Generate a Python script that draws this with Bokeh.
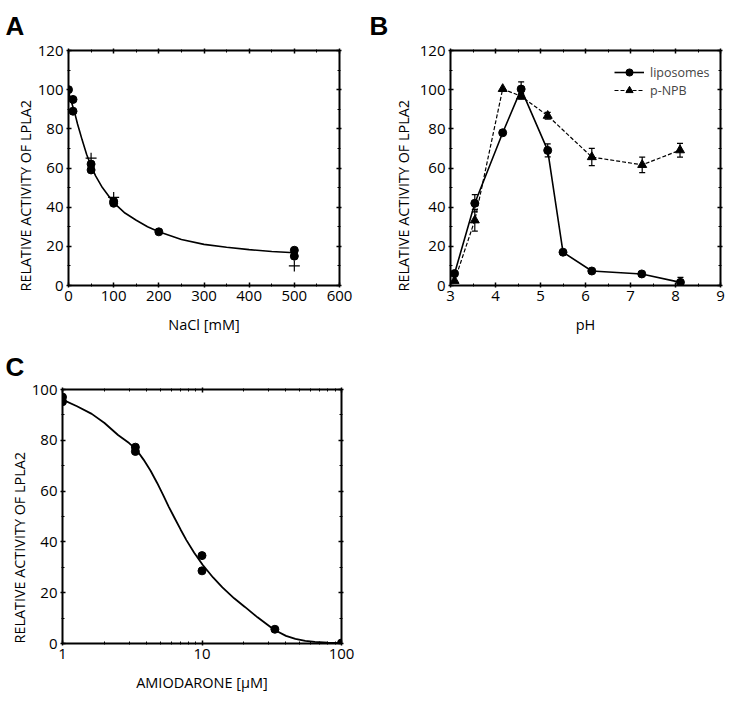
from bokeh.plotting import figure
from bokeh.models import (LinearAxis, LogAxis, FixedTicker, Whisker, ColumnDataSource,
                          Legend, LegendItem, Range1d, TeeHead, SingleIntervalTicker, Title)
from bokeh.layouts import column, row
from bokeh.embed import file_html
from bokeh.resources import INLINE

FONT = "Open Sans"
TICK_FS = "15px"
YLABEL_FS = "14.4px"
XLABEL_FS = "14.5px"
YLABEL = "RELATIVE ACTIVITY OF LPLA2"

# ---------------- Panel A data ----------------
nacl_x = [0, 10, 10, 50, 50, 100, 100, 200, 500, 500]
nacl_y = [100, 95, 89, 62, 59, 43, 42, 27.4, 18, 15]
nacl_plus_x = [50, 100, 500]
nacl_plus_y = [65, 45, 10]
nacl_fit_x = [0, 5, 10, 15, 20, 25, 30, 40, 50, 60, 75, 100, 125, 150, 175, 200, 250, 300, 350, 400, 450, 500]
nacl_fit_y = [99, 95, 91, 87, 82.5, 78.5, 74.5, 67, 61, 56, 50, 42.3, 37, 33.3, 30, 27.4, 23.5, 21, 19.5, 18.3, 17.4, 16.7]

# ---------------- Panel B data ----------------
ph_lipo = [3.09, 3.54, 4.16, 4.57, 5.16, 5.50, 6.14, 7.25, 8.11]
lipo = [6.1, 42, 78, 100.3, 69, 17, 7.4, 5.9, 1.6]
lipo_err = [0, 4.4, 0, 3.7, 3.3, 0, 0, 0, 2.5]
ph_npb = [3.09, 3.54, 4.16, 4.57, 5.16, 6.14, 7.26, 8.10]
npb = [2.4, 33.3, 100.4, 96.6, 86.7, 65.6, 61.6, 69.1]
npb_err = [0, 5.5, 0, 1.5, 1.7, 4.4, 4.0, 3.5]

# ---------------- Panel C data ----------------
amio_x = [1, 1, 3.33, 3.33, 10, 10, 33.3, 100]
amio_y = [97, 95.2, 77.3, 75.6, 34.6, 28.6, 5.6, 0.2]
amio_fit_x = [1.0, 1.27, 1.62, 2.0, 2.5, 3.0, 3.38, 3.81, 4.28, 4.77, 5.25, 5.78, 6.4, 7.02, 7.73, 8.79, 10.1,
              12.0, 14.0, 17.0, 20.3, 25.0, 32.9, 40.0, 46.7, 55.0, 64.4, 80.0, 100]
amio_fit_y = [96, 93.4, 90.4, 86.8, 82.1, 78.9, 76.4, 72.4, 68.0, 63.2, 58.6, 53.8, 49.1, 44.9, 40.7, 35.7, 31.0,
              26.0, 22.1, 17.8, 14.4, 10.3, 5.4, 3.0, 1.8, 1.0, 0.6, 0.3, 0.15]


def style_axes(p, xticker, yticker, log=False, ylabel_standoff=8, ylabel_offset=1):
    bottom = p.below[0]
    left = p.left[0]
    p.outline_line_color = None
    p.grid.visible = False
    p.background_fill_color = "white"
    p.border_fill_color = "white"
    top = LogAxis(ticker=xticker) if log else LinearAxis(ticker=xticker)
    right = LinearAxis(ticker=yticker)
    p.add_layout(top, "above")
    p.add_layout(right, "right")
    for ax in [bottom, left, top, right]:
        ax.axis_line_width = 2
        ax.axis_line_color = "black"
        ax.major_tick_line_color = "black"
        ax.minor_tick_line_color = "black"
        ax.major_tick_line_width = 1.5
        ax.minor_tick_line_width = 1
        ax.major_tick_in = 3
        ax.major_tick_out = 2
        ax.minor_tick_in = 2
        ax.minor_tick_out = 1
        ax.major_label_text_font = FONT
        ax.major_label_text_font_size = TICK_FS
        ax.major_label_text_color = "black"
        ax.axis_label_text_font = FONT
        ax.axis_label_text_font_style = "normal"
        ax.axis_label_text_color = "black"
        ax.major_label_standoff = 3
    for ax in [top, right]:
        ax.major_label_text_font_size = "0px"
        ax.major_label_standoff = 0
        ax.major_label_text_color = None
    bottom.ticker = xticker
    left.ticker = yticker
    bottom.axis_label_standoff = 11
    bottom.axis_label_text_font_size = XLABEL_FS
    # y label: drawn as a side title so that it can start at the bottom of the frame
    p.add_layout(Title(text=YLABEL, align="left", offset=ylabel_offset, standoff=ylabel_standoff,
                       text_font=FONT, text_font_size=YLABEL_FS, text_font_style="normal",
                       text_color="black"), "left")
    return bottom, left


def panel_letter(p, txt, offset, standoff=16):
    p.title.text = txt
    p.title.text_font = "Liberation Sans"
    p.title.text_font_style = "bold"
    p.title.text_font_size = "26px"
    p.title.align = "left"
    p.title.offset = offset
    p.title.standoff = standoff
    p.title.text_color = "black"


# ---------------- Panel A ----------------
pA = figure(width=362, height=344, output_backend="svg", toolbar_location=None,
            x_range=Range1d(0, 600), y_range=Range1d(0, 120),
            min_border_left=68, min_border_right=23, min_border_top=40, min_border_bottom=59)
bA, lA = style_axes(pA, SingleIntervalTicker(interval=100, num_minor_ticks=2),
                    SingleIntervalTicker(interval=20, num_minor_ticks=2),
                    ylabel_standoff=0, ylabel_offset=-6)
bA.axis_label = "NaCl [mM]"
pA.line(nacl_fit_x, nacl_fit_y, line_color="black", line_width=1.6)
pA.scatter(nacl_x, nacl_y, marker="circle", size=8, color="black")
pA.scatter(nacl_plus_x, nacl_plus_y, marker="cross", size=11, line_color="black", line_width=1.2)
panel_letter(pA, "A", -63)

# ---------------- Panel B ----------------
pB = figure(width=364, height=344, output_backend="svg", toolbar_location=None,
            x_range=Range1d(3, 9), y_range=Range1d(0, 120),
            min_border_left=88, min_border_right=6, min_border_top=41, min_border_bottom=59)
bB, lB = style_axes(pB, SingleIntervalTicker(interval=1, num_minor_ticks=2),
                    SingleIntervalTicker(interval=20, num_minor_ticks=2),
                    ylabel_standoff=7, ylabel_offset=-6)
bB.axis_label = "pH"

l1 = pB.line(ph_lipo, lipo, line_color="black", line_width=1.6)
s1 = pB.scatter(ph_lipo, lipo, marker="circle", size=8, color="black")
l2 = pB.line(ph_npb, npb, line_color="black", line_width=1.2, line_dash="4 2")
s2 = pB.scatter(ph_npb, npb, marker="triangle", size=9, color="black")

for xs, ys, es in [(ph_lipo, lipo, lipo_err), (ph_npb, npb, npb_err)]:
    bx = [x for x, e in zip(xs, es) if e > 0]
    up = [y + e for y, e in zip(ys, es) if e > 0]
    lo = [y - e for y, e in zip(ys, es) if e > 0]
    src = ColumnDataSource(dict(base=bx, upper=up, lower=lo))
    pB.add_layout(Whisker(source=src, base="base", upper="upper", lower="lower",
                          line_color="black", line_width=1.2,
                          upper_head=TeeHead(size=6, line_width=1.2, line_color="black"),
                          lower_head=TeeHead(size=6, line_width=1.2, line_color="black")))

legend = Legend(items=[LegendItem(label="liposomes", renderers=[l1, s1]),
                       LegendItem(label="p-NPB", renderers=[l2, s2])],
                location=(164, 186), border_line_color=None, background_fill_alpha=0,
                glyph_width=30, glyph_height=18, label_height=18, spacing=0, padding=0,
                margin=0, label_standoff=6, label_text_font=FONT, label_text_font_size="12.5px")
pB.add_layout(legend)
panel_letter(pB, "B", -81)

# ---------------- Panel C ----------------
pC = figure(width=361, height=355, output_backend="svg", toolbar_location=None,
            x_axis_type="log", x_range=Range1d(1, 100), y_range=Range1d(0, 100),
            min_border_left=62, min_border_right=20, min_border_top=44, min_border_bottom=56)
log_ticker = FixedTicker(ticks=[1, 10, 100],
                         minor_ticks=[2, 3, 4, 5, 6, 7, 8, 9, 20, 30, 40, 50, 60, 70, 80, 90])
bC, lC = style_axes(pC, log_ticker, SingleIntervalTicker(interval=20, num_minor_ticks=2), log=True,
                    ylabel_standoff=0, ylabel_offset=0)
bC.major_label_overrides = {1: "1", 10: "10", 100: "100"}
bC.axis_label = "AMIODARONE [µM]"
pC.line(amio_fit_x, amio_fit_y, line_color="black", line_width=1.8)
pC.scatter(amio_x, amio_y, marker="circle", size=8, color="black")
panel_letter(pC, "C", -57, standoff=11)

layout = column(row(pA, pB), pC)
open("out.html", "w").write(file_html(layout, INLINE))
